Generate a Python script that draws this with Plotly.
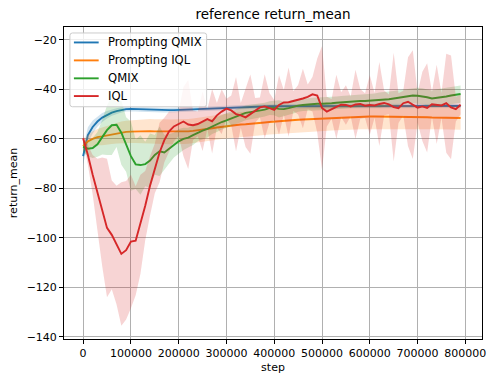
import numpy as np
import plotly.graph_objects as go

# Training steps (one evaluation every 10k steps)
steps = np.arange(0, 800000, 10000)

# Smoothed mean return per method
prompting_qmix = [
    -67.0, -58.5, -55.2, -53.0, -51.4, -50.3, -49.4, -48.8, -48.3, -48.0,
    -47.9, -48.0, -48.1, -48.2, -48.3, -48.3, -48.4, -48.4, -48.4, -48.4,
    -48.4, -48.3, -48.2, -48.1, -48.0, -47.9, -47.8, -47.8, -47.7, -47.6,
    -47.5, -47.4, -47.3, -47.2, -47.1, -47.0, -47.0, -46.9, -46.9, -46.8,
    -46.8, -46.8, -46.7, -46.7, -46.8, -46.7, -46.7, -46.6, -46.7, -46.7,
    -46.6, -46.6, -46.7, -46.6, -46.6, -46.6, -46.7, -46.6, -46.6, -46.6,
    -46.6, -46.7, -46.6, -46.6, -46.6, -46.7, -46.6, -46.6, -46.6, -46.6,
    -46.7, -46.6, -46.6, -46.6, -46.7, -46.6, -46.6, -46.6, -46.7, -46.7,
]
prompting_iql = [
    -63.0, -61.0, -60.0, -59.3, -59.0, -58.6, -58.1, -57.7, -57.4, -57.2,
    -57.1, -57.0, -57.0, -56.9, -56.9, -57.0, -57.0, -57.1, -57.2, -57.2,
    -57.2, -57.1, -57.0, -56.8, -56.6, -56.3, -56.0, -55.7, -55.4, -55.1,
    -54.8, -54.5, -54.3, -54.2, -54.1, -54.0, -53.8, -53.6, -53.4, -53.2,
    -53.0, -52.9, -52.8, -52.6, -52.5, -52.3, -52.2, -52.1, -52.0, -51.9,
    -51.8, -51.7, -51.6, -51.5, -51.4, -51.3, -51.2, -51.2, -51.1, -51.1,
    -51.0, -51.0, -51.0, -51.0, -51.0, -51.1, -51.1, -51.1, -51.2, -51.2,
    -51.3, -51.3, -51.3, -51.4, -51.4, -51.4, -51.5, -51.5, -51.5, -51.6,
]
qmix = [
    -63.2, -64.0, -63.7, -62.2, -59.3, -56.5, -54.5, -54.3, -57.5, -62.3,
    -67.0, -70.3, -70.6, -70.2, -68.8, -66.5, -65.0, -65.5, -64.0, -62.5,
    -61.0, -60.0, -59.5, -58.5, -57.5, -56.7, -56.0, -55.0, -54.2, -53.2,
    -52.5, -51.8, -51.0, -50.3, -49.5, -49.2, -48.9, -48.6, -48.2, -47.6,
    -47.5, -47.9, -48.0, -47.6, -47.0, -46.6, -46.3, -46.1, -45.9, -45.8,
    -45.8, -45.8, -45.6, -45.4, -45.2, -45.1, -45.0, -44.8, -44.7, -44.7,
    -44.6, -44.5, -44.3, -44.2, -44.0, -43.7, -43.4, -43.1, -42.8, -42.5,
    -42.6, -42.8, -43.2, -43.7, -43.5, -43.1, -42.9, -42.5, -42.2, -41.9,
]
iql = [
    -59.8, -66.5, -74.5, -82.0, -89.5, -96.0, -98.8, -103.0, -106.5, -105.0,
    -101.5, -101.2, -94.5, -87.0, -79.0, -72.0, -65.5, -60.5, -57.0, -55.0,
    -53.9, -53.0, -54.2, -54.5, -54.0, -52.9, -52.0, -52.9, -50.5, -49.0,
    -47.8, -48.5, -50.0, -50.5, -51.3, -50.0, -48.5, -47.3, -46.9, -47.5,
    -48.3, -46.3, -45.3, -45.2, -44.8, -44.2, -43.7, -43.0, -42.0, -42.5,
    -47.5, -49.0, -47.9, -47.1, -46.2, -46.3, -46.9, -46.1, -45.9, -46.6,
    -46.3, -46.5, -45.9, -45.5, -46.1, -47.2, -47.6, -45.6, -45.0, -46.2,
    -47.4, -46.9, -47.5, -46.0, -46.1, -46.5, -45.6, -47.3, -48.0, -46.2,
]

# Spread (standard deviation across seeds)
prompting_qmix_std = [
    3.5, 3.2, 2.6, 2.1, 1.8, 1.5, 1.3, 1.2, 1.1, 1.0,
    1.0, 1.0, 1.0, 1.0, 1.0, 1.0, 1.0, 1.0, 1.0, 1.0,
    1.0, 1.0, 1.0, 0.9, 0.9, 0.9, 0.9, 0.9, 0.9, 0.9,
    0.9, 0.9, 0.9, 0.8, 0.8, 0.8, 0.8, 0.8, 0.8, 0.8,
    0.8, 0.8, 0.8, 0.8, 0.8, 0.8, 0.8, 0.8, 0.8, 0.8,
    0.8, 0.8, 0.8, 0.8, 0.8, 0.8, 0.8, 0.8, 0.8, 0.8,
    0.8, 0.8, 0.8, 0.8, 0.8, 0.8, 0.8, 0.8, 0.8, 0.8,
    0.8, 0.8, 0.8, 0.8, 0.8, 0.8, 0.8, 0.8, 0.8, 0.8,
]
prompting_iql_std = [
    2.0, 2.5, 3.0, 3.3, 3.6, 3.8, 4.0, 4.2, 4.4, 4.5,
    4.6, 4.7, 4.8, 4.8, 4.9, 4.9, 5.0, 5.0, 5.0, 5.0,
    5.0, 5.0, 5.0, 5.0, 5.0, 5.0, 5.0, 5.0, 5.0, 5.0,
    5.0, 5.0, 5.0, 5.0, 5.0, 5.0, 5.0, 5.0, 5.0, 5.0,
    5.0, 5.0, 5.0, 5.0, 5.0, 5.0, 5.0, 5.0, 5.0, 5.0,
    5.0, 5.0, 5.0, 5.0, 5.0, 5.0, 5.0, 5.0, 5.0, 5.0,
    4.8, 4.8, 4.8, 4.8, 4.8, 4.8, 4.8, 4.8, 4.8, 4.8,
    4.7, 4.7, 4.7, 4.7, 4.7, 4.7, 4.7, 4.7, 4.7, 4.7,
]
qmix_std = [
    2.0, 3.0, 4.0, 5.0, 7.0, 10.0, 12.0, 9.0, 13.0, 11.0,
    14.0, 10.0, 12.0, 9.0, 11.0, 8.0, 10.0, 7.0, 6.0, 5.0,
    5.0, 4.5, 4.0, 4.0, 3.5, 3.5, 3.5, 3.0, 3.0, 3.0,
    3.0, 3.0, 3.0, 3.0, 3.0, 3.0, 3.0, 2.8, 2.8, 2.8,
    3.0, 3.5, 3.0, 2.8, 2.8, 2.5, 2.5, 2.5, 2.5, 2.5,
    2.5, 2.5, 2.5, 2.5, 2.5, 2.5, 2.5, 2.5, 2.5, 2.5,
    2.8, 2.8, 3.0, 3.0, 3.0, 3.0, 3.0, 3.0, 3.0, 3.0,
    3.2, 3.2, 3.2, 3.2, 3.5, 3.5, 3.5, 3.5, 3.5, 3.5,
]
iql_std = [
    1.5, 4.0, 8.0, 14.0, 22.0, 28.0, 22.0, 24.0, 29.0, 28.0,
    27.0, 22.0, 20.0, 14.0, 12.0, 10.0, 12.0, 9.0, 8.0, 6.0,
    5.0, 14.0, 18.0, 6.0, 5.0, 12.0, 4.0, 13.0, 5.0, 9.0,
    4.0, 6.0, 15.0, 5.0, 12.0, 16.0, 5.0, 4.0, 13.0, 6.0,
    4.0, 12.0, 5.0, 14.0, 4.0, 6.0, 12.0, 5.0, 7.0, 15.0,
    25.0, 6.0, 4.0, 13.0, 5.0, 8.0, 4.0, 14.0, 6.0, 5.0,
    12.0, 5.0, 17.0, 5.0, 4.0, 22.0, 6.0, 5.0, 18.0, 22.0,
    6.0, 14.0, 18.0, 5.0, 16.0, 5.0, 20.0, 21.0, 5.0, 4.0,
]

series = [
    ("Prompting QMIX", prompting_qmix, prompting_qmix_std, (31, 119, 180)),
    ("Prompting IQL", prompting_iql, prompting_iql_std, (255, 127, 14)),
    ("QMIX", qmix, qmix_std, (44, 160, 44)),
    ("IQL", iql, iql_std, (214, 39, 40)),
]

W, H = 491, 377
ML, MR, MT, MB = 64, 5, 27, 37
PW, PH = W - ML - MR, H - MT - MB


def px_to_paper(px, py):
    """Pixel position in the figure -> paper coordinates."""
    return (px - ML) / PW, (H - MB - py) / PH


fig = go.Figure()
x = list(steps)
for name, mean, std, (r, g, b) in series:
    m = np.array(mean)
    s = np.array(std)
    upper = m + s
    lower = m - s
    fig.add_trace(go.Scatter(
        x=x + x[::-1],
        y=list(upper) + list(lower[::-1]),
        fill="toself",
        fillcolor=f"rgba({r},{g},{b},0.2)",
        line=dict(width=0),
        mode="lines",
        hoverinfo="skip",
        showlegend=False,
    ))
    fig.add_trace(go.Scatter(
        x=x, y=m, mode="lines", name=name,
        line=dict(color=f"rgb({r},{g},{b})", width=1.9),
        showlegend=False,
    ))

font = "DejaVu Sans"

# Legend box (upper left) drawn as a rounded, semi-transparent frame
bx0, by0, bx1, by1 = 70, 33, 208, 107
rad = 2.5
x0, y0 = px_to_paper(bx0, by1)
x1, y1 = px_to_paper(bx1, by0)
rx, ry = rad / PW, rad / PH
frame_path = (
    f"M {x0 + rx},{y0} L {x1 - rx},{y0} Q {x1},{y0} {x1},{y0 + ry} "
    f"L {x1},{y1 - ry} Q {x1},{y1} {x1 - rx},{y1} "
    f"L {x0 + rx},{y1} Q {x0},{y1} {x0},{y1 - ry} "
    f"L {x0},{y0 + ry} Q {x0},{y0} {x0 + rx},{y0} Z"
)
shapes = [dict(type="path", path=frame_path, xref="paper", yref="paper",
               fillcolor="rgba(255,255,255,0.8)", line=dict(color="#cccccc", width=1),
               layer="above")]
annotations = []
entry_rows = [42.5, 60.5, 78.5, 96.3]
for (name, _, _, (r, g, b)), row in zip(series, entry_rows):
    hx0, hy = px_to_paper(74, row)
    hx1, _ = px_to_paper(99, row)
    shapes.append(dict(type="line", xref="paper", yref="paper",
                       x0=hx0, x1=hx1, y0=hy, y1=hy, layer="above",
                       line=dict(color=f"rgb({r},{g},{b})", width=1.9)))
    tx, ty = px_to_paper(106, row)
    annotations.append(dict(text=name, xref="paper", yref="paper", x=tx, y=ty,
                            xanchor="left", yanchor="middle", showarrow=False,
                            font=dict(family=font, size=11.6, color="black")))

axis_common = dict(
    showgrid=True, gridcolor="#b0b0b0", gridwidth=0.8,
    showline=True, linecolor="black", linewidth=0.9, mirror=True,
    ticks="outside", ticklen=4, tickwidth=0.9, tickcolor="black",
    tickfont=dict(family=font, size=11, color="black"),
    zeroline=False,
)

fig.update_layout(
    width=W, height=H,
    margin=dict(l=ML, r=MR, t=MT, b=MB),
    paper_bgcolor="white", plot_bgcolor="white",
    font=dict(family=font, color="black"),
    title=dict(text="reference return_mean", x=0.5, xref="paper",
               y=1 - 14 / H, yref="container", xanchor="center", yanchor="middle",
               font=dict(family=font, size=13.5, color="black")),
    xaxis=dict(range=[-40000, 834800], tick0=0, dtick=100000, tickformat="d",
               title=dict(text="step", standoff=4,
                          font=dict(family=font, size=11, color="black")),
               **axis_common),
    yaxis=dict(range=[-140.9, -14.8], tick0=-140, dtick=20,
               title=dict(text="return_mean", standoff=6,
                          font=dict(family=font, size=11, color="black")),
               **axis_common),
    shapes=shapes,
    annotations=annotations,
    showlegend=False,
)

fig.write_html("out.html")
